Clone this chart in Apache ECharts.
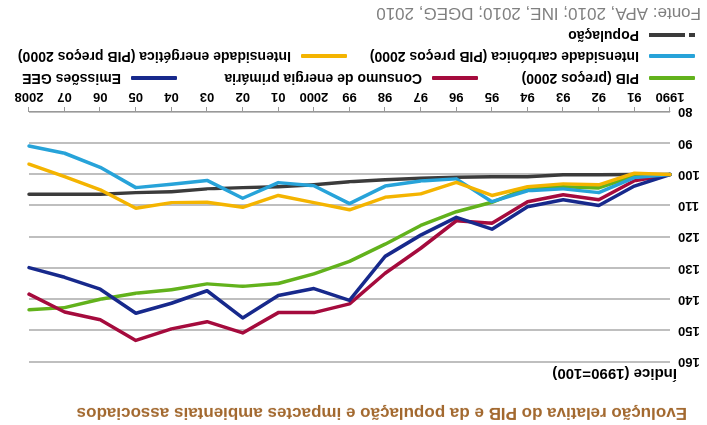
<!DOCTYPE html>
<html>
<head>
<meta charset="utf-8">
<title>Evolução relativa do PIB e da população</title>
<script src="https://cdn.jsdelivr.net/npm/echarts@6.0.0/dist/echarts.min.js"></script>
<style>
  html, body { margin: 0; padding: 0; background: #fff; }
  /* the reference picture is upside down, so the whole chart is turned */
  #main { width: 707px; height: 425px; transform: rotate(180deg); }
</style>
</head>
<body>
<div id="main"></div>
<script>
// anos (eixo x)
const anos = ['1990', '91', '92', '93', '94', '95', '96', '97', '98', '99',
  '2000', '01', '02', '03', '04', '05', '06', '07', '2008'];

// índice 1990=100
const pib = [100, 100.5, 104.3, 103.9, 104.3, 108.9, 111.9, 116.3, 122.3, 127.8,
  131.8, 134.9, 135.8, 135.0, 136.9, 138.0, 139.9, 142.6, 143.3];
const consumoEnergia = [100, 102.0, 108.1, 106.5, 108.7, 115.6, 114.8, 123.6, 131.6, 141.4,
  144.2, 144.2, 150.7, 147.1, 149.4, 153.1, 146.5, 144.0, 138.3];
const emissoesGEE = [100, 103.7, 109.9, 108.1, 110.3, 117.5, 113.7, 119.4, 126.2, 140.3,
  136.5, 138.7, 145.9, 137.2, 141.2, 144.4, 136.7, 132.9, 129.8];
const intCarbonica = [100, 101.0, 105.8, 104.6, 105.2, 108.7, 101.4, 102.1, 103.7, 109.3,
  103.6, 102.6, 107.6, 101.9, 103.1, 104.2, 97.7, 93.2, 90.9];
const intEnergetica = [100, 99.6, 103.3, 103.0, 103.9, 106.7, 102.5, 106.2, 107.3, 111.3,
  109.0, 106.7, 110.5, 108.9, 109.0, 110.8, 104.9, 100.7, 96.7];
const populacao = [100, 100, 100.1, 100.1, 100.7, 100.7, 100.9, 101.2, 101.7, 102.3,
  103.3, 103.9, 104.2, 104.6, 105.5, 105.8, 106.3, 106.3, 106.3];

const FONT = '"Liberation Sans", Arial, sans-serif';

const myChart = echarts.init(document.getElementById('main'));

function serie(name, data, color) {
  return {
    name: name,
    type: 'line',
    data: data,
    showSymbol: false,
    symbol: 'none',
    color: color,
    itemStyle: { color: color },
    lineStyle: { width: 3.5, color: color, cap: 'round', join: 'round' },
    emphasis: { disabled: true },
    animation: false
  };
}

function legenda(name, left, mid, icon) {
  return {
    data: [name],
    left: left,
    top: mid - 8,
    padding: 0,
    icon: icon || 'roundRect',
    itemWidth: 46,
    itemHeight: 4,
    selectedMode: false,
    itemStyle: { borderWidth: 0 },
    textStyle: { fontFamily: FONT, fontSize: 14, fontWeight: 'bold', color: '#000', padding: [0, 0, 0, 5] }
  };
}

let option = {
  backgroundColor: '#fff',
  animation: false,
  graphic: [
    {
      type: 'text', left: 20, top: 4,
      style: { text: 'Evolução relativa do PIB e da população e impactes ambientais associados',
        font: 'bold 17px ' + FONT, fill: '#a3692f' }
    },
    {
      type: 'text', left: 30, top: 44,
      style: { text: 'Índice (1990=100)', font: 'bold 15px ' + FONT, fill: '#000' }
    },
    {
      type: 'text', left: 6, top: 404,
      style: { text: 'Fonte: APA, 2010; INE, 2010; DGEG, 2010', font: '17px ' + FONT, fill: '#808080' }
    }
  ],
  legend: [
    legenda('PIB (preços 2000)', 12, 348),
    legenda('Consumo de energia primária', 229, 348),
    legenda('Emissões GEE', 530, 348),
    legenda('Intensidade carbónica (PIB preços 2000)', 12, 370),
    legenda('Intensidade energética (PIB preços 2000)', 360, 370),
    legenda('População', 12, 391, 'path://M0,0h6v4h-6z M10,0h36v4h-36z')
  ],
  grid: { left: 37, right: 29, top: 63, bottom: 112, containLabel: false },
  xAxis: {
    type: 'category',
    data: anos,
    boundaryGap: false,
    axisLine: { lineStyle: { color: '#999', width: 1 } },
    axisTick: { show: true, length: 5, lineStyle: { color: '#999' } },
    axisLabel: { fontFamily: FONT, fontSize: 13, fontWeight: 'bold', color: '#000', margin: 9, interval: 0 },
    splitLine: { show: false }
  },
  yAxis: {
    type: 'value',
    min: 80,
    max: 160,
    interval: 10,
    axisLine: { show: false },
    axisTick: { show: false },
    axisLabel: { fontFamily: FONT, fontSize: 13, fontWeight: 'bold', color: '#000', margin: 8 },
    splitLine: { lineStyle: { color: '#aaa', width: 1.5 } }
  },
  series: [
    serie('População', populacao, '#3b3b3b'),
    serie('PIB (preços 2000)', pib, '#62b21c'),
    serie('Consumo de energia primária', consumoEnergia, '#a50b3d'),
    serie('Emissões GEE', emissoesGEE, '#17298c'),
    serie('Intensidade carbónica (PIB preços 2000)', intCarbonica, '#27a3d9'),
    serie('Intensidade energética (PIB preços 2000)', intEnergetica, '#f4b400')
  ]
};

myChart.setOption(option);
</script>
</body>
</html>
